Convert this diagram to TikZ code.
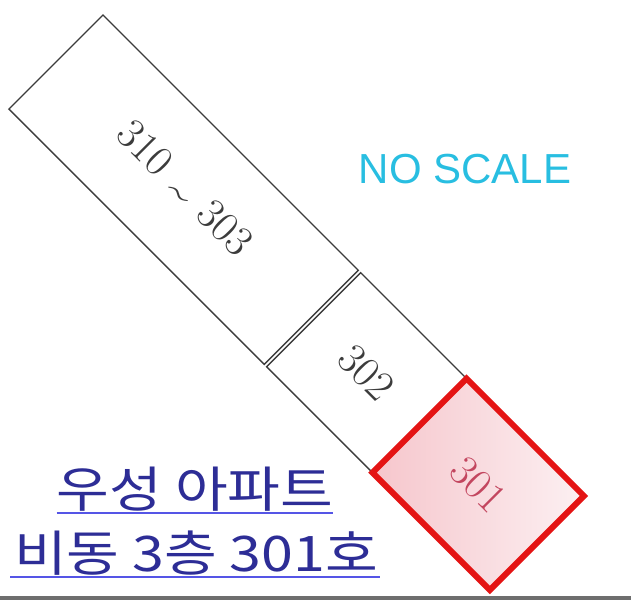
\documentclass[tikz,border=0pt]{standalone}
\usepackage{fontspec}
\newfontfamily\krfont{Noto Sans CJK KR}
\newfontfamily\nsfont{Liberation Sans}
\usetikzlibrary{calc}
\definecolor{boxline}{RGB}{60,60,60}
\definecolor{hired}{RGB}{228,20,20}
\definecolor{pinkfill}{RGB}{246,198,204}
\definecolor{pinkend}{RGB}{252,240,242}
\definecolor{numred}{RGB}{195,70,95}
\definecolor{cyantext}{RGB}{40,190,225}
\definecolor{navy}{RGB}{45,45,150}
\definecolor{ulblue}{RGB}{85,85,230}
\definecolor{barfill}{RGB}{110,110,110}
\tikzset{
  unitbox/.style={draw=boxline, line width=1.4pt, rotate=-45, anchor=north west,
    inner sep=0pt, outer sep=0pt, minimum height=133pt,
    font=\fontsize{43}{43}\selectfont, text=boxline},
  selbox/.style={unitbox, draw=hired, line width=6pt, left color=pinkfill,
    right color=pinkend, text=numred},
  krline/.style={font=\krfont\fontsize{49}{49}\selectfont, text=navy, anchor=base,
    inner sep=0pt, outer sep=0pt},
  ulline/.style={draw=ulblue, line width=2.6pt},
}
\begin{document}
\begin{tikzpicture}[x=1pt,y=-1pt]
\useasboundingbox (0,0) rectangle (631,600);
\fill[white] (0,0) rectangle (631,600);
% units
\node[unitbox, minimum width=361pt] (u310) at (103,15)
  {310\hspace{15pt}\raisebox{-6pt}{\textasciitilde}\hspace{15pt}303};
\node[unitbox, minimum width=149.5pt] (u302) at (360.7,272.7) {302};
\node[selbox, minimum width=166pt] (u301) at (466.5,378.5) {301};
% no scale
\node[font=\nsfont\fontsize{42}{42}\selectfont, text=cyantext, anchor=base,
  inner sep=0pt] (ns) at (465,183) {NO SCALE};
% address
\node[krline] (l1) at (195,507) {\scalebox{1.17}[1]{우성 아파트}};
\node[krline] (l2) at (196,571) {\scalebox{1.17}[1]{비동 3층 301호}};
\draw[ulline] ($(l1.base west)+(0,6)$) -- ($(l1.base east)+(0,6)$);
\draw[ulline] ($(l2.base west)+(-4,6)$) -- ($(l2.base east)+(2,6)$);
% bottom bar
\fill[barfill] (0,596) rectangle (631,600);
\end{tikzpicture}
\end{document}
